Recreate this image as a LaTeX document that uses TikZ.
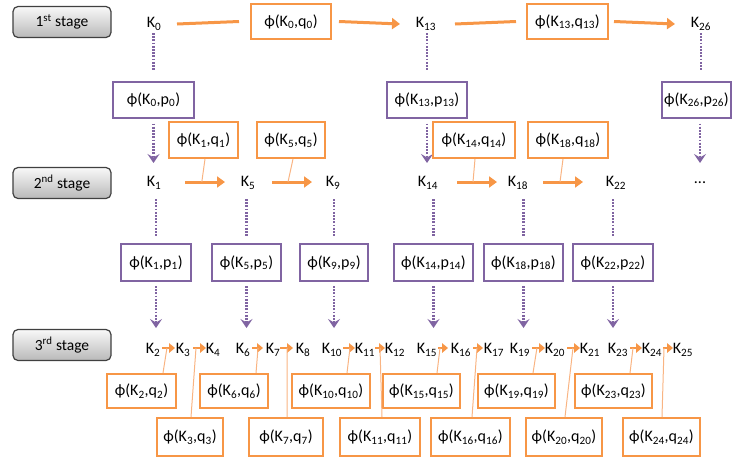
\documentclass[tikz,border=0pt]{standalone}
\usepackage{fontspec}
\setmainfont{Carlito}
\usetikzlibrary{arrows.meta,calc}
\definecolor{orng}{HTML}{F79646}
\definecolor{lorng}{HTML}{F9B483}
\definecolor{purp}{HTML}{8064A2}
\begin{document}
\begin{tikzpicture}[x=1pt,y=-1pt,
 every node/.style={font=\fontsize{16}{19}\selectfont},
 klab/.style={inner sep=0pt},
 obox/.style={draw=orng,line width=2pt,fill=white,inner sep=0pt,minimum height=35pt},
 pbox/.style={draw=purp,line width=2pt,fill=white,inner sep=0pt,minimum height=36pt},
 stagebtn/.style={draw=black!75,line width=1.2pt,rounded corners=5pt,top color=gray!5,bottom color=gray!55,minimum width=98pt,minimum height=31pt,inner sep=0pt,font=\fontsize{15.5}{18}\selectfont},
 oarr/.style={draw=orng,line width=3pt,-{Triangle[length=8pt,width=11pt]}},
 oline/.style={draw=orng,line width=3pt},
 sarr/.style={draw=orng,line width=2.8pt,-{Triangle[length=6pt,width=9.5pt]}},
 tline/.style={draw=lorng,line width=1pt},
 pdots/.style={draw=purp,line width=2.2pt,dash pattern=on 1.8pt off 1.4pt},
 darr/.style={pdots,-{Stealth[length=9pt,width=12pt,inset=3.5pt]}},
]
\useasboundingbox (0,0) rectangle (733,458);
% stage buttons
\node[stagebtn] (s1) at (62,22) {1\textsuperscript{st} stage};
\node[stagebtn] (s2) at (62,183) {2\textsuperscript{nd} stage};
\node[stagebtn] (s3) at (62,345) {3\textsuperscript{rd} stage};
% stage 1
\node[klab] (k0) at (154,24) {K\textsubscript{0}};
\node[obox,minimum width=80pt] (q0) at (291,21.5) {ϕ(K\textsubscript{0},q\textsubscript{0})};
\node[klab] (k13) at (426,24) {K\textsubscript{13}};
\node[obox,minimum width=81pt] (q13) at (567.5,21.5) {ϕ(K\textsubscript{13},q\textsubscript{13})};
\node[klab] (k26) at (701,24) {K\textsubscript{26}};
\node[pbox,minimum width=81pt] (p0) at (153.5,99.5) {ϕ(K\textsubscript{0},p\textsubscript{0})};
\node[pbox,minimum width=80pt] (p13) at (427,99.5) {ϕ(K\textsubscript{13},p\textsubscript{13})};
\node[pbox,minimum width=69pt] (p26) at (696.5,99.5) {ϕ(K\textsubscript{26},p\textsubscript{26})};
\draw[oline] ([xshift=23pt]k0.center) -- ([xshift=-11pt]q0.west);
\draw[oarr] ([xshift=7pt]q0.east) -- ([xshift=-26pt]k13.center);
\draw[oline] ([xshift=29pt]k13.center) -- ([xshift=-10pt]q13.west);
\draw[oarr] ([xshift=5pt]q13.east) -- ([xshift=-26pt]k26.center);
\draw[pdots] ([yshift=-9pt]p0.north |- k0.center) -- ([yshift=10pt]p0.north);
\draw[pdots] ([yshift=-9pt]p13.north |- k13.center) -- ([yshift=10pt]p13.north);
\draw[pdots] ([yshift=-9pt]k26.center) -- ([yshift=10pt]k26.center |- p26.north);
% stage 2
\node[klab] (k1) at (154,183) {K\textsubscript{1}};
\node[klab] (k5) at (248,183) {K\textsubscript{5}};
\node[klab] (k9) at (333,183) {K\textsubscript{9}};
\node[klab] (k14) at (428,183) {K\textsubscript{14}};
\node[klab] (k18) at (518,183) {K\textsubscript{18}};
\node[klab] (k22) at (616,183) {K\textsubscript{22}};
\node[klab] (dd) at (700,183) {...};
\draw[darr] ([yshift=-5pt]p0.south) -- ([yshift=20pt]p0.south |- k1.center);
\draw[darr] ([yshift=-5pt]p13.south) -- ([yshift=20pt]p13.south |- k14.center);
\draw[darr] ([yshift=-5pt]dd.center |- p26.south) -- ([yshift=20pt]dd.center);
\node[obox,minimum width=69pt,minimum height=36pt] (q1) at (203.5,140) {ϕ(K\textsubscript{1},q\textsubscript{1})};
\node[obox,minimum width=68pt,minimum height=36pt] (q5) at (291,140) {ϕ(K\textsubscript{5},q\textsubscript{5})};
\node[obox,minimum width=82pt,minimum height=36pt] (q14) at (474,140) {ϕ(K\textsubscript{14},q\textsubscript{14})};
\node[obox,minimum width=80pt,minimum height=36pt] (q18) at (568,140) {ϕ(K\textsubscript{18},q\textsubscript{18})};
\foreach \a/\b/\sa/\sb/\p/\qs in {1/5/31/23/.42/1.5, 5/9/24/21/.4/2, 14/18/29/21/.4/1, 18/22/25/33/.425/-5}{
  \draw[oarr] ([xshift=\sa pt,yshift=1pt]k\a.center) -- coordinate[pos=\p] (m\a) ([xshift=-\sb pt,yshift=1pt]k\b.center);
  \draw[tline] ([xshift=\qs pt]q\a.south) -- (m\a);
}
\node[pbox,minimum width=70pt,minimum height=37pt] (p1) at (156,262.5) {ϕ(K\textsubscript{1},p\textsubscript{1})};
\node[pbox,minimum width=69pt,minimum height=37pt] (p5) at (246.5,262.5) {ϕ(K\textsubscript{5},p\textsubscript{5})};
\node[pbox,minimum width=68pt,minimum height=37pt] (p9) at (334,262.5) {ϕ(K\textsubscript{9},p\textsubscript{9})};
\node[pbox,minimum width=79pt,minimum height=37pt] (p14) at (433.5,262.5) {ϕ(K\textsubscript{14},p\textsubscript{14})};
\node[pbox,minimum width=79pt,minimum height=37pt] (p18) at (523.5,262.5) {ϕ(K\textsubscript{18},p\textsubscript{18})};
\node[pbox,minimum width=80pt,minimum height=37pt] (p22) at (613,262.5) {ϕ(K\textsubscript{22},p\textsubscript{22})};
\foreach \a in {1,5,9,14,18,22}{
  \draw[pdots] ([yshift=-16pt]p\a.north |- k\a.center) -- ([yshift=6pt]p\a.north);
}
% stage 3
\foreach \a/\x in {2/153,3/183,4/213,6/243,7/273,8/303,10/332,11/365,12/395,15/427,16/461,17/494,19/520,20/555,21/590,23/618,24/652,25/683}{
  \node[klab] (k\a) at (\x,350) {K\textsubscript{\a}};
}
\foreach \a/\b in {1/2,5/6,9/10,14/15,18/19,22/23}{
  \draw[darr] ([yshift=-4pt]p\a.south) -- ([yshift=22pt]p\a.south |- k\b.center);
}
\foreach \a/\x/\w in {2/141.5/69,6/234/68,10/331/78,15/421.5/77,19/516.5/77,23/613.5/77}{
  \node[obox,minimum width=\w pt,minimum height=34pt] (q\a) at (\x,391) {ϕ(K\textsubscript{\a},q\textsubscript{\a})};
}
\foreach \a/\x/\w in {3/190/66,7/286/74,11/380/80,16/470.5/79,20/564/76,24/661.5/77}{
  \node[obox,minimum width=\w pt,minimum height=38pt] (q\a) at (\x,437) {ϕ(K\textsubscript{\a},q\textsubscript{\a})};
}
\foreach \a/\b/\sa/\sb/\p/\qs in {2/3/9/8/.38/21.5, 3/4/10/7/.23/1, 6/7/9/10/.55/22, 7/8/7/10/.54/1, 10/11/11/10/.58/16, 11/12/10/10/.5/2, 15/16/11/13/.2/15.5, 16/17/12/11/.4/1.5, 19/20/12/10/.38/16.5, 20/21/12/10/.46/1, 23/24/12/10/.25/16.5, 24/25/11/10/.1/0.5}{
  \draw[sarr] ([xshift=\sa pt,yshift=2pt]k\a.center) -- coordinate[pos=\p] (m\a) ([xshift=-\sb pt,yshift=2pt]k\b.center);
  \draw[tline] ([xshift=\qs pt]q\a.north) -- (m\a);
}
\end{tikzpicture}
\end{document}
